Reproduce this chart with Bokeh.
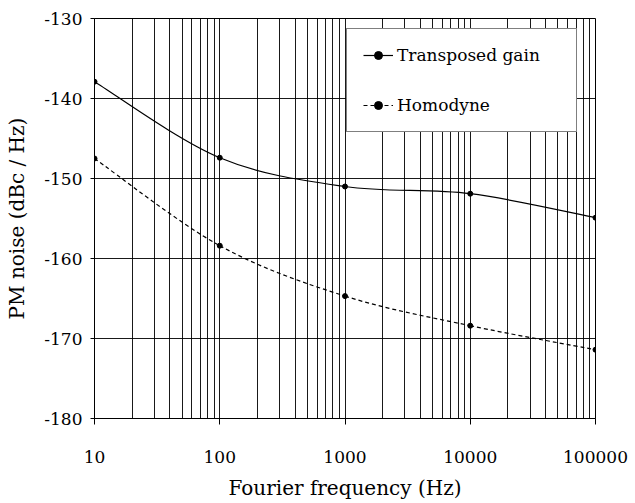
import numpy as np
from bokeh.plotting import figure
from bokeh.models import FixedTicker, Legend, LegendItem, ColumnDataSource, Range1d, PrintfTickFormatter
from bokeh.embed import file_html
from bokeh.resources import INLINE

freq = [10, 100, 1000, 10000, 100000]
transposed = [-137.9, -147.4, -151.0, -151.9, -154.9]
homodyne = [-147.5, -158.4, -164.7, -168.4, -171.4]
x_ticks = [10, 100, 1000, 10000, 100000]
y_ticks = [-180, -170, -160, -150, -140, -130]

FONT = "DejaVu Serif"


def smooth_segments(xs, ys):
    lx = np.log10(np.array(xs, dtype=float))
    y = np.array(ys, dtype=float)
    n = len(lx)
    d = dict(x0=[], y0=[], x1=[], y1=[], cx0=[], cy0=[], cx1=[], cy1=[])
    for i in range(n - 1):
        im = max(i - 1, 0)
        ip = min(i + 2, n - 1)
        c0x = lx[i] + (lx[i + 1] - lx[im]) / 6.0
        c0y = y[i] + (y[i + 1] - y[im]) / 6.0
        c1x = lx[i + 1] - (lx[ip] - lx[i]) / 6.0
        c1y = y[i + 1] - (y[ip] - y[i]) / 6.0
        d["x0"].append(10 ** lx[i]); d["y0"].append(y[i])
        d["x1"].append(10 ** lx[i + 1]); d["y1"].append(y[i + 1])
        d["cx0"].append(10 ** c0x); d["cy0"].append(c0y)
        d["cx1"].append(10 ** c1x); d["cy1"].append(c1y)
    return ColumnDataSource(d)


p = figure(width=635, height=503, x_axis_type="log",
           x_range=Range1d(10, 100000), y_range=Range1d(-180, -130),
           output_backend="svg", toolbar_location=None,
           min_border_left=94, min_border_top=18, min_border_right=40, min_border_bottom=85)

p.outline_line_color = "black"
p.outline_line_width = 1
p.background_fill_color = "white"
p.border_fill_color = "white"

minor = [k * 10 ** e for e in range(1, 5) for k in range(2, 10)]
xt = FixedTicker(ticks=x_ticks, minor_ticks=minor)
p.xaxis.ticker = xt
p.xgrid.ticker = xt
p.xaxis.formatter = PrintfTickFormatter(format="%d")
p.yaxis.ticker = FixedTicker(ticks=y_ticks)
p.ygrid.ticker = FixedTicker(ticks=y_ticks)
p.yaxis.formatter = PrintfTickFormatter(format="%d")

p.xgrid.grid_line_color = "black"
p.xgrid.grid_line_alpha = 0.9
p.xgrid.minor_grid_line_color = "black"
p.xgrid.minor_grid_line_alpha = 0.9
p.ygrid.grid_line_color = "black"
p.ygrid.grid_line_alpha = 0.9

for ax in (p.xaxis, p.yaxis):
    ax.axis_line_color = "black"
    ax.major_tick_line_color = "black"
    ax.minor_tick_line_color = None
    ax.major_tick_in = 0
    ax.major_label_text_font = FONT
    ax.major_label_text_font_size = "17px"
    ax.major_label_text_color = "black"
    ax.axis_label_text_font = FONT
    ax.axis_label_text_font_size = "20px"
    ax.axis_label_text_font_style = "normal"
    ax.axis_label_text_color = "black"

p.xaxis.major_tick_out = 6
p.xaxis.major_label_standoff = 26
p.xaxis.axis_label = "Fourier frequency (Hz)"
p.xaxis.axis_label_standoff = 10
p.yaxis.major_tick_out = 4
p.yaxis.major_label_standoff = 8
p.yaxis.axis_label = "PM noise (dBc / Hz)"
p.yaxis.axis_label_standoff = 12

src_t = smooth_segments(freq, transposed)
src_h = smooth_segments(freq, homodyne)
bt = p.bezier(x0="x0", y0="y0", x1="x1", y1="y1", cx0="cx0", cy0="cy0", cx1="cx1", cy1="cy1",
              source=src_t, line_color="black", line_width=1.2)
bh = p.bezier(x0="x0", y0="y0", x1="x1", y1="y1", cx0="cx0", cy0="cy0", cx1="cx1", cy1="cy1",
              source=src_h, line_color="black", line_width=1.2, line_dash="4 3")
st = p.scatter(freq, transposed, marker="circle", size=5, color="black")
sh = p.scatter(freq, homodyne, marker="circle", size=5, color="black")

legend = Legend(items=[LegendItem(label="Transposed gain", renderers=[bt, st]),
                       LegendItem(label="Homodyne", renderers=[bh, sh])],
                location=(252, 286))
legend.label_text_font = FONT
legend.label_text_font_size = "17px"
legend.label_text_color = "black"
legend.border_line_color = "black"
legend.border_line_width = 1
legend.background_fill_color = "white"
legend.background_fill_alpha = 1.0
legend.glyph_width = 30
legend.label_standoff = 4
legend.label_width = 163
legend.padding = 16
legend.spacing = 30
legend.margin = 0
p.add_layout(legend, "center")

open("out.html", "w").write(file_html(p, INLINE))
